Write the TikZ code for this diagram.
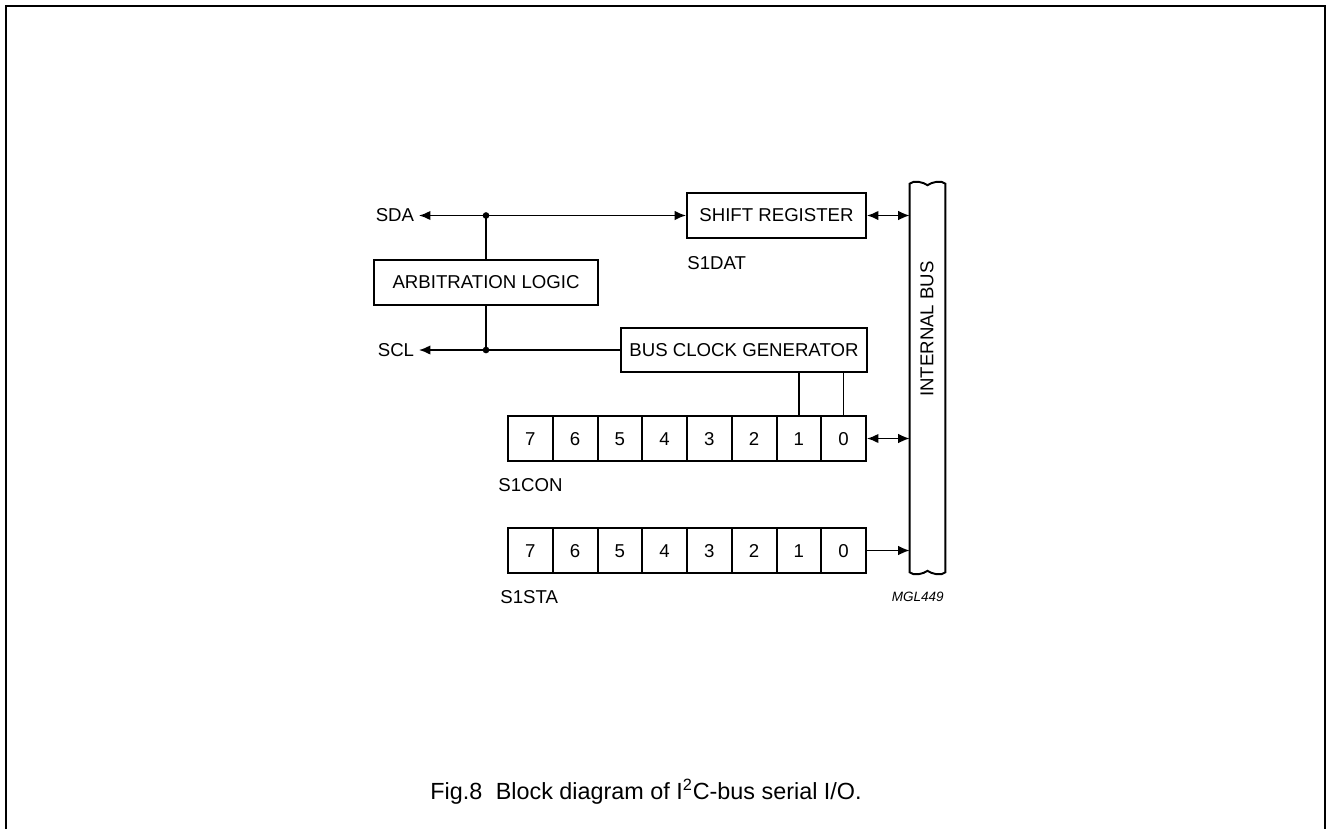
\documentclass[tikz,border=0pt]{standalone}
\usepackage{fontspec}
\setmainfont{Liberation Sans}
\usepackage{tikz}
\usetikzlibrary{arrows.meta,positioning,calc}

\tikzset{
  blk/.style={draw,line width=1.1pt,inner sep=0pt,align=center},
  bitcell/.style={draw,line width=1.1pt,inner sep=0pt,minimum width=0.895cm,minimum height=0.9cm,
    text height=1.6ex,text depth=0pt},
  lbl/.style={inner sep=0pt},
  pin/.style={inner ysep=0pt,inner xsep=2.6pt},
  wire/.style={line width=0.9pt},
  tip/.style={-{Latex[length=6.5pt,width=5.4pt]}},
  biptip/.style={{Latex[length=6.5pt,width=5.4pt]}-{Latex[length=6.5pt,width=5.4pt]}},
}

\begin{document}
\begin{tikzpicture}[x=0.02cm,y=-0.02cm,font=\fontsize{10.6}{12.7}\selectfont]
  \useasboundingbox (0,0) rectangle (1327,829);
  \draw[line width=1.1pt] (6,829) -- (6,6) -- (1325,6) -- (1325,829);

  % blocks
  \node[blk,minimum width=3.58cm,minimum height=0.9cm] (sr)  at (776.5,215.5) {SHIFT REGISTER};
  \node[blk,minimum width=4.48cm,minimum height=0.9cm] (arb) at (486,282.5) {ARBITRATION LOGIC};
  \node[blk,minimum width=4.92cm,minimum height=0.88cm] (bcg) at (744,350) {BUS CLOCK GENERATOR};
  \node[inner sep=0pt,minimum width=0.7cm,minimum height=7.76cm] (bus) at (927.5,378) {};
  \node[lbl,rotate=90] (buslbl) at (927,329) {INTERNAL BUS};

  % internal bus outline with broken ends
  \draw[line width=1.1pt] (bus.north west) .. controls ++(4,-4) and ++(-4,-3) .. ($(bus.north)+(0,1.5)$)
        .. controls ++(4,-3) and ++(-4,-4) .. (bus.north east) -- (bus.south east)
        .. controls ++(-4,4) and ++(4,3) .. ($(bus.south)+(0,-1.5)$)
        .. controls ++(-4,3) and ++(4,4) .. (bus.south west) -- cycle;

  % registers
  \foreach \b in {7,...,0}{
    \node[bitcell] (con\b) at ({530.4+(7-\b)*44.75},438.5) {\b};
    \node[bitcell] (sta\b) at ({530.4+(7-\b)*44.75},550.5) {\b};
  }

  % pins and labels
  \node[pin,anchor=east] (sda) at (419,215.5) {SDA};
  \node[pin,anchor=east] (scl) at (419,350) {SCL};
  \node[lbl,anchor=west] (s1dat) at (687,263) {S1DAT};
  \node[lbl,anchor=west] (s1con) at (498,485) {S1CON};
  \node[lbl,anchor=west] (s1sta) at (500,597) {S1STA};
  \node[lbl,anchor=east,font=\fontsize{7.7}{9}\selectfont\itshape] (mgl) at (944,597) {MGL449};
  \node[lbl,font=\fontsize{13.3}{15}\selectfont] (cap) at (646,792) {Fig.8\hspace{0.3em} Block diagram of I\textsuperscript{2}C-bus serial I/O.};

  % junctions
  \coordinate (jsda) at (arb.north |- sda.east);
  \coordinate (jscl) at (arb.south |- scl.east);
  \fill (jsda) circle[radius=1.9pt];
  \fill (jscl) circle[radius=1.9pt];

  % connections
  \draw[wire,tip] (jsda) -- (sda.east);
  \draw[wire,tip] (jsda) -- (sr.west);
  \draw[wire] (jsda) -- (arb.north);
  \draw[wire] (arb.south) -- (jscl);
  \draw[wire,tip] (bcg.west) -- (scl.east);
  \draw[wire] (con1.north) -- (con1.north |- bcg.south);
  \draw[wire] (con0.north) -- (con0.north |- bcg.south);
  \draw[wire,biptip] (sr.east) -- (sr.east -| bus.west);
  \draw[wire,biptip] (con0.east) -- (con0.east -| bus.west);
  \draw[wire,tip] (sta0.east) -- (sta0.east -| bus.west);
\end{tikzpicture}
\end{document}
